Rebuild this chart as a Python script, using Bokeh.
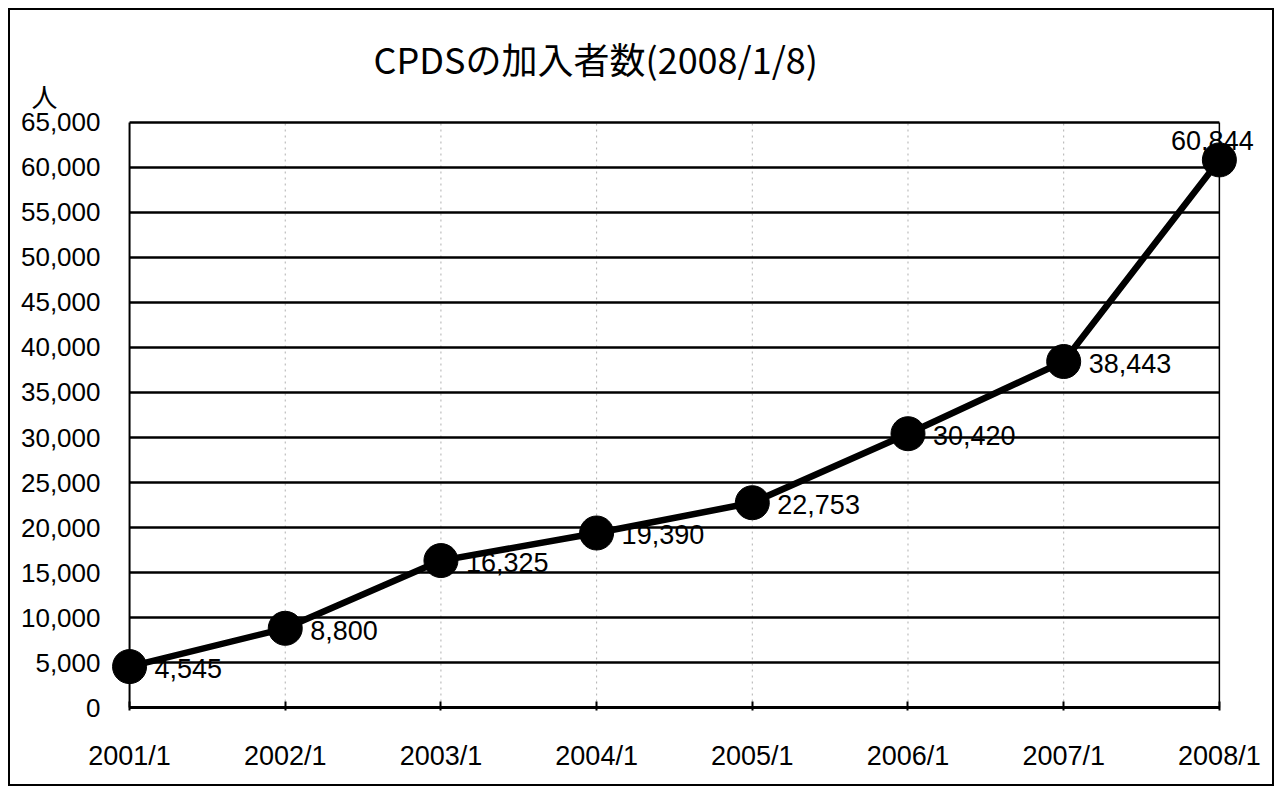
from bokeh.plotting import figure
from bokeh.models import Range1d, FixedTicker, NumeralTickFormatter, Title, ColumnDataSource
from bokeh.core.properties import value
from bokeh.embed import file_html
from bokeh.resources import INLINE

# ---- data ----
categories = ["2001/1", "2002/1", "2003/1", "2004/1", "2005/1", "2006/1", "2007/1", "2008/1"]
members = [4545, 8800, 16325, 19390, 22753, 30420, 38443, 60844]
y_ticks = [0, 5000, 10000, 15000, 20000, 25000, 30000, 35000, 40000, 45000, 50000, 55000, 60000, 65000]
title_text = "CPDSの加入者数(2008/1/8)"
unit_text = "人"

xs = list(range(len(categories)))
labels = [f"{v:,}" for v in members]
x_last = xs[-1]
y_top = y_ticks[-1]

SANS = "Liberation Sans"

src_main = ColumnDataSource(dict(x=xs[:-1], y=members[:-1], t=labels[:-1]))
src_last = ColumnDataSource(dict(x=xs[-1:], y=members[-1:], t=labels[-1:]))

p = figure(width=1266, height=778, output_backend="svg", toolbar_location=None,
           x_range=Range1d(-0.116, x_last + 0.277), y_range=Range1d(-333, y_top + 333),
           min_border_left=101, min_border_right=14, min_border_top=109, min_border_bottom=78)
p.styles = {"border": "2px solid black", "margin-left": "8px", "margin-top": "8px"}
p.outline_line_color = None
p.background_fill_color = "white"
p.border_fill_color = "white"
p.xgrid.visible = False
p.ygrid.visible = False

# title (outermost) and unit label (next to the frame)
p.title.text = title_text
p.title.align = "left"
p.title.offset = 262
p.title.standoff = -31
p.title.text_font = "Noto Sans CJK JP"
p.title.text_font_size = "36px"
p.title.text_font_style = "normal"
p.title.text_color = "black"
p.add_layout(Title(text=unit_text, align="left", offset=-80, standoff=12,
                   text_font="Noto Sans CJK JP", text_font_size="26px",
                   text_font_style="normal", text_color="black"), "above")

# axes
p.xaxis.ticker = FixedTicker(ticks=xs)
p.xaxis.major_label_overrides = {i: c for i, c in zip(xs, categories)}
p.xaxis.axis_line_color = None
p.xaxis.major_tick_in = 9
p.xaxis.major_tick_out = 0
p.xaxis.major_tick_line_color = "black"
p.xaxis.major_tick_line_width = 2
p.xaxis.minor_tick_line_color = None
p.xaxis.major_label_standoff = 30
p.xaxis.major_label_text_font = SANS
p.xaxis.major_label_text_font_size = "27px"
p.xaxis.major_label_text_color = "black"

p.yaxis.ticker = FixedTicker(ticks=y_ticks)
p.yaxis.formatter = NumeralTickFormatter(format="0,0")
p.yaxis.axis_line_color = None
p.yaxis.major_tick_line_color = None
p.yaxis.minor_tick_line_color = None
p.yaxis.major_label_standoff = 5
p.yaxis.major_label_text_font = SANS
p.yaxis.major_label_text_font_size = "26px"
p.yaxis.major_label_text_color = "black"

# vertical dotted grid lines at inner categories
inner = xs[1:-1]
p.segment(x0=inner, x1=inner, y0=0, y1=y_top, line_color="#b0b0b0", line_width=1, line_dash="2 4")
# horizontal grid lines
p.segment(x0=0, x1=x_last, y0=y_ticks[1:], y1=y_ticks[1:], line_color="black", line_width=2.5)
# frame: bottom axis, left axis, right border
p.segment(x0=0, x1=x_last, y0=0, y1=0, line_color="black", line_width=3)
p.segment(x0=0, x1=0, y0=0, y1=y_top, line_color="black", line_width=2)
p.segment(x0=x_last, x1=x_last, y0=0, y1=y_top, line_color="black", line_width=1.5)

# series
p.line(xs, members, line_color="black", line_width=6.5)
p.scatter(xs, members, size=34, fill_color="black", line_color="black")

# data labels
p.text(x="x", y="y", text="t", source=src_main, text_font=value(SANS),
       text_font_size="27px", text_color="black", text_align="left", text_baseline="middle",
       x_offset=25, y_offset=2)
p.text(x="x", y="y", text="t", source=src_last, text_font=value(SANS),
       text_font_size="27px", text_color="black", text_align="center", text_baseline="alphabetic",
       x_offset=-7, y_offset=-19)

open("out.html", "w").write(file_html(p, INLINE))
